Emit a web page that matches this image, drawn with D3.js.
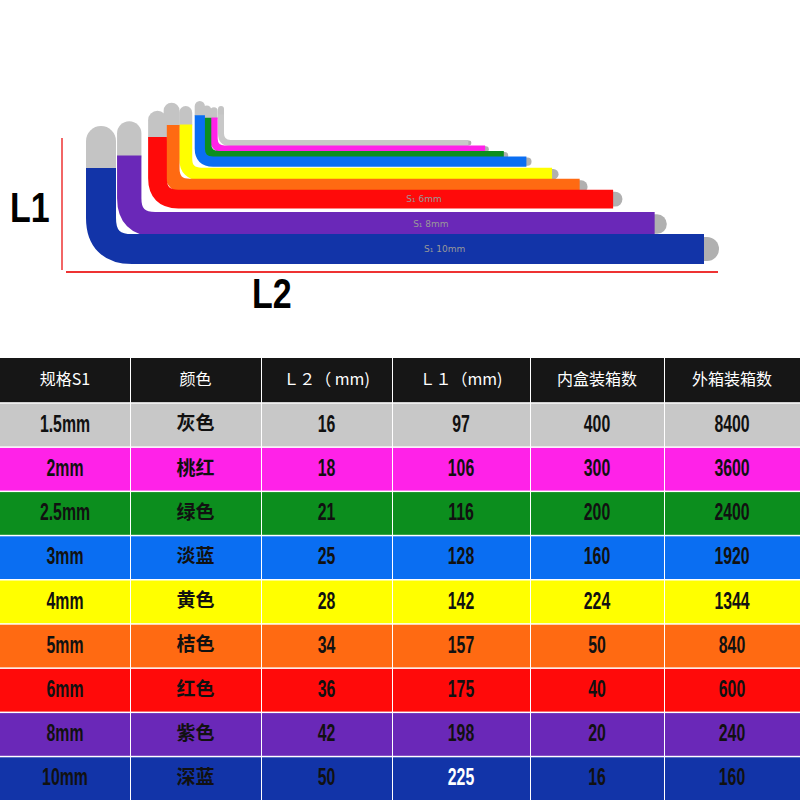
<!DOCTYPE html><html><head><meta charset="utf-8"><script src="https://cdn.jsdelivr.net/npm/d3@7"></script>
<style>body{margin:0;background:#fff}</style></head><body><svg id="c" width="800" height="800"></svg>
<script>
const sizes=["1.5mm","2mm","2.5mm","3mm","4mm","5mm","6mm","8mm","10mm"];
const sizeNum=[1.5,2,2.5,3,4,5,6,8,10];
const colorNames=["灰色","桃红","绿色","淡蓝","黄色","桔色","红色","紫色","深蓝"];
const L2=[16,18,21,25,28,34,36,42,50];
const L1=[97,106,116,128,142,157,175,198,225];
const innerBox=[400,300,200,160,224,50,40,20,16];
const outerBox=[8400,3600,2400,1920,1344,840,600,240,160];
const headers=["规格S1","颜色","Ｌ２（ mm)","Ｌ１（mm)","内盒装箱数","外箱装箱数"];
const rowColors=["#c8c8c8","#ff22e8","#0c8e1e","#0a6ef2","#ffff00","#ff6a12","#ff0a0a","#6a28b8","#1234a8"];

const svg=d3.select("#c");
const xLeft=d3.scaleLinear().domain([1.5,10]).range([218,86]);
const yBot=d3.scaleLinear().domain([1.5,10]).range([146,264]);
const hS=d3.scaleLinear().domain([16,50]).range([40,138]);
const xRight=d3.scaleLinear().domain([97,225]).range([472,722]);
const thick=d3.scaleLinear().domain([1.5,10]).range([6,30]);
const g=svg.append("g");
for(let i=0;i<sizes.length;i++){
  const s=sizeNum[i],t=thick(s),l=xLeft(s),b=yBot(s),top=b-hS(L2[i]),r=xRight(L1[i]);
  const cx=l+t/2,cy=b-t/2,rad=t*0.9+4;
  g.append("path").attr("d",`M${cx},${top+t/2}L${cx},${top+t*1.4}`).attr("stroke","#c4c4c4").attr("stroke-width",t).attr("stroke-linecap","round").attr("fill","none");
  g.append("path").attr("d",`M${r-t*1.6},${cy}L${r-t/2},${cy}`).attr("stroke","#b0b0b0").attr("stroke-width",t*0.8).attr("stroke-linecap","round").attr("fill","none");
  g.append("path").attr("d",`M${cx},${top+t*1.4}L${cx},${cy-rad}Q${cx},${cy} ${cx+rad},${cy}L${r-t*0.6},${cy}`).attr("stroke",rowColors[i]).attr("stroke-width",t).attr("fill","none");
  if(s>=6) g.append("text").attr("x",(l+r)/2+20).attr("y",cy+3).attr("font-size",9).attr("fill","#999").attr("font-family","DejaVu Sans").text("S₁ "+sizes[i]);
}
svg.append("line").attr("x1",62).attr("x2",62).attr("y1",138).attr("y2",270).attr("stroke","#e33").attr("stroke-width",1.5);
svg.append("line").attr("x1",66).attr("x2",718).attr("y1",272).attr("y2",272).attr("stroke","#e33").attr("stroke-width",2);
svg.append("text").attr("transform","translate(10,222) scale(0.85,1.05)").text("L1").attr("font-family","Liberation Sans").attr("font-weight","bold").attr("font-size",40);
svg.append("text").attr("transform","translate(252,308) scale(0.85,1.05)").text("L2").attr("font-family","Liberation Sans").attr("font-weight","bold").attr("font-size",40);

const colX=[0,130,261,392,530,664,800];
const y=d3.scaleBand().domain(d3.range(10)).range([358,800]);
const rows=sizes.map((s,i)=>[s,colorNames[i],L2[i],L1[i],innerBox[i],outerBox[i]]);
const tg=svg.append("g");
tg.append("rect").attr("x",0).attr("y",358).attr("width",800).attr("height",442).attr("fill","#fff");
[headers,...rows].forEach((row,ri)=>{
  row.forEach((v,ci)=>{
    const x0=colX[ci]+(ci?1:0),w=colX[ci+1]-colX[ci]-(ci?1:0);
    tg.append("rect").attr("x",x0).attr("y",y(ri)+(ri?1.5:0)).attr("width",w).attr("height",y.bandwidth()-(ri?1.5:0)).attr("fill",ri?rowColors[ri-1]:"#161616");
    const cxT=colX[ci]+(colX[ci+1]-colX[ci])/2, cyT=y(ri)+y.bandwidth()/2+1;
    const cond=ri&&ci!==1;
    tg.append("text").attr("transform",`translate(${cxT},${cyT})`+(cond?" scale(0.72,1.12)":""))
      .attr("text-anchor","middle").attr("dominant-baseline","middle")
      .attr("fill",ri?(ri===9&&ci===3?"#fff":"#111"):"#fff")
      .attr("font-family",cond?"Liberation Sans":"Noto Sans CJK SC")
      .attr("font-weight",ri?"bold":"normal").attr("font-size",ri?(ci===1?19:22):16).text(v);
  });
});
</script></body></html>
